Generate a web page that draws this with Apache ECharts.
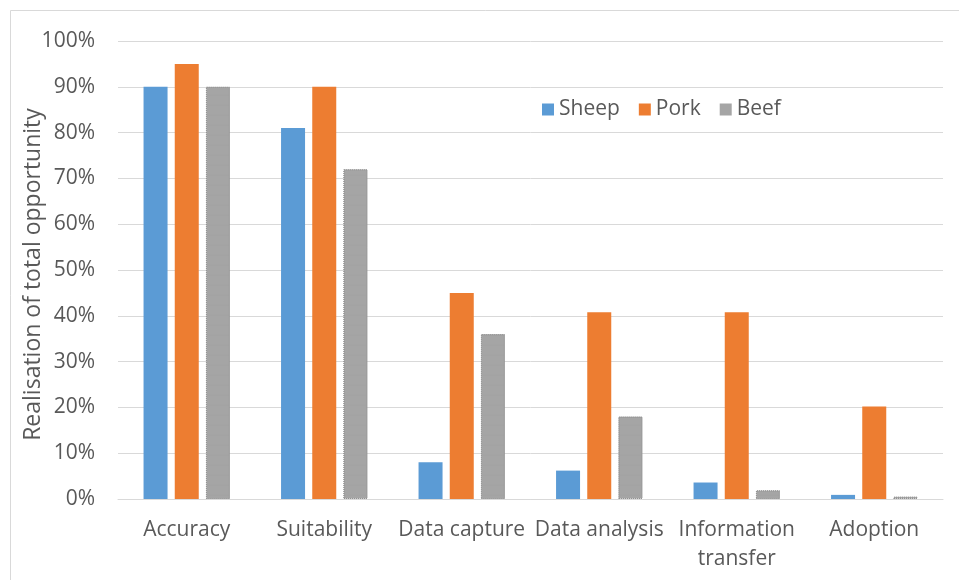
<!DOCTYPE html>
<html>
<head>
<meta charset="utf-8">
<script src="https://cdn.jsdelivr.net/npm/echarts@6/dist/echarts.min.js"></script>
<style>
  html, body { margin: 0; padding: 0; background: #fff; }
  #chart { width: 959px; height: 580px; }
</style>
</head>
<body>
<div id="chart"></div>
<script>
// Stages of the opportunity chain along the x axis
const categories = ['Accuracy', 'Suitability', 'Data capture', 'Data analysis', 'Information\ntransfer', 'Adoption'];
// Share of total opportunity realised (percent) per sector
const sheep = [90, 81, 8, 6.2, 3.6, 0.9];
const pork  = [95, 90, 45, 40.8, 40.8, 20.2];
const beef  = [90, 72, 36, 18, 1.9, 0.5];
const yTicks = [0, 10, 20, 30, 40, 50, 60, 70, 80, 90, 100];

const FONT = '"Open Sans", "Noto Sans", sans-serif';
const TEXT = '#595959';
const GRID = '#d9d9d9';

const chart = echarts.init(document.getElementById('chart'), null, { renderer: 'canvas' });

function barSeries(name, data, color, extra) {
  return Object.assign({
    name: name,
    type: 'bar',
    data: data,
    barWidth: 24,
    barGap: '30%',
    itemStyle: { color: color },
    emphasis: { disabled: true }
  }, extra || {});
}

chart.setOption({
  animation: false,
  backgroundColor: '#fff',
  textStyle: { fontFamily: FONT },
  graphic: [{
    type: 'rect',
    shape: { x: 10.5, y: 10.5, width: 980, height: 600 },
    style: { fill: 'none', stroke: GRID, lineWidth: 1 },
    silent: true
  }],
  grid: { left: 118, right: 16, top: 41, bottom: 81, containLabel: false },
  legend: {
    left: 537,
    top: 94,
    itemWidth: 12,
    itemHeight: 12,
    itemGap: 19,
    icon: 'rect',
    textStyle: { color: TEXT, fontSize: 21, fontFamily: FONT },
    data: [
      { name: 'Sheep' },
      { name: 'Pork' },
      { name: 'Beef', itemStyle: { borderWidth: 0, decal: 'none' } }
    ]
  },
  xAxis: {
    type: 'category',
    data: categories,
    axisLine: { lineStyle: { color: GRID, width: 1 } },
    axisTick: { show: false },
    axisLabel: {
      color: TEXT, fontSize: 21, fontFamily: FONT,
      margin: 17, lineHeight: 29, interval: 0
    }
  },
  yAxis: {
    type: 'value',
    min: yTicks[0],
    max: yTicks[yTicks.length - 1],
    interval: yTicks[1] - yTicks[0],
    name: 'Realisation of total opportunity',
    nameLocation: 'middle',
    nameGap: 73,
    nameMoveOverlap: false,
    nameTextStyle: { color: TEXT, fontSize: 23, fontFamily: FONT, padding: [0, 9, 0, 0] },
    axisLine: { show: false },
    axisTick: { show: false },
    splitLine: { lineStyle: { color: GRID, width: 1 } },
    axisLabel: {
      color: TEXT, fontSize: 21, fontFamily: FONT, margin: 23,
      formatter: v => v + '%'
    }
  },
  series: [
    barSeries('Sheep', sheep, '#5B9BD5'),
    barSeries('Pork', pork, '#ED7D31'),
    barSeries('Beef', beef, '#A5A5A5', {
      itemStyle: {
        color: '#A5A5A5', borderColor: '#939393', borderWidth: 1, borderType: 'dotted',
        decal: {
          symbol: 'circle', symbolSize: 0.35, color: 'rgba(120,120,120,0.35)',
          dashArrayX: [[1, 0], [1, 0]], dashArrayY: [10, 0], rotation: 0
        }
      }
    })
  ]
});
</script>
</body>
</html>
